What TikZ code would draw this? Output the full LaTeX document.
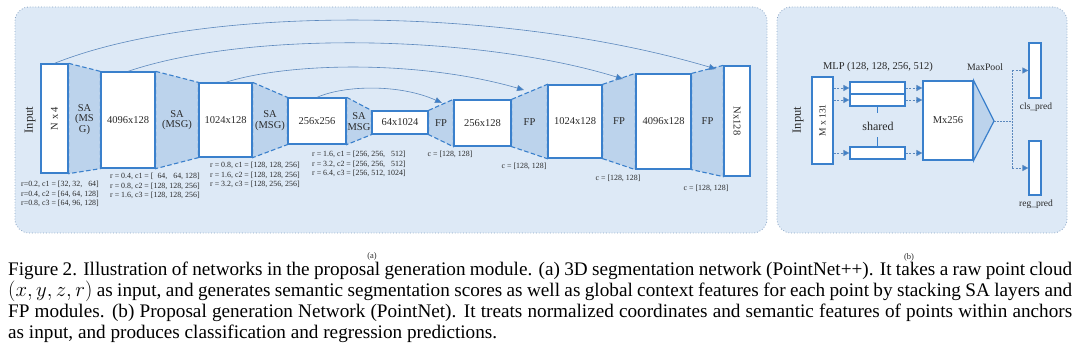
\documentclass[tikz,border=0pt]{standalone}
\usepackage{fontspec}
\setmainfont{Liberation Serif}
\usetikzlibrary{arrows.meta,calc}
\definecolor{panelfill}{HTML}{DDE9F6}
\definecolor{panelline}{HTML}{8AA6C6}
\definecolor{trapfill}{HTML}{BCD3EC}
\definecolor{boxline}{HTML}{3A80CC}
\definecolor{arcline}{HTML}{5B88BD}
\definecolor{txt}{HTML}{2A2A2A}
\newcommand{\captline}[1]{\makebox[1064pt][s]{#1}}
\begin{document}
\begin{tikzpicture}[x=1pt,y=-1pt,
  panel/.style={draw=panelline, fill=panelfill, dotted, line width=0.8pt, rounded corners=14pt, inner sep=0pt},
  fmap/.style={draw=boxline, fill=white, line width=1.3pt, inner sep=0pt, text=txt, font=\fontsize{10.5}{11}\selectfont},
  thin box/.style={draw=boxline, fill=white, line width=1.2pt, inner sep=0pt},
  trap/.style={fill=trapfill, draw=boxline, line width=1.1pt, dash pattern=on 4.5pt off 2.5pt},
  lbl/.style={text=txt, font=\fontsize{10.5}{10.5}\selectfont, align=center, inner sep=0pt},
  param/.style={text=txt, font=\fontsize{7.9}{9.5}\selectfont, align=left, inner sep=0pt, anchor=north west},
  small/.style={text=txt, font=\fontsize{7.9}{9.5}\selectfont, inner sep=0pt},
  skip/.style={draw=arcline, line width=0.6pt, -{Triangle[length=7pt,width=6pt,fill=boxline]}},
  dasharr/.style={draw=arcline, line width=0.7pt, dash pattern=on 2pt off 1.5pt, -{Triangle[length=6pt,width=6pt,fill=boxline]}},
  dashln/.style={draw=arcline, line width=0.7pt, dash pattern=on 1.5pt off 1.5pt},
  capt/.style={text=black, font=\fontsize{19.2}{21}\selectfont, align=left, inner sep=0pt, anchor=north west}]
\useasboundingbox (0,0) rectangle (1080,358);
\fill[white] (0,0) rectangle (1080,358);

% panels
\node[panel, minimum width=752pt, minimum height=226pt] (pa) at (391,120) {};
\node[panel, minimum width=290pt, minimum height=226pt] (pb) at (922,120) {};

% ---------- panel (a): feature maps ----------
\node[fmap, minimum width=27pt, minimum height=109pt] (in) at (54.5,118.5) {};
\node[fmap, minimum width=54pt, minimum height=96pt] (b1) at (128,120) {};
\node[fmap, minimum width=53pt, minimum height=74pt] (b2) at (225.5,120) {};
\node[fmap, minimum width=58pt, minimum height=46pt] (b3) at (317,121) {};
\node[fmap, minimum width=56pt, minimum height=23pt] (b4) at (400,122.5) {};
\node[fmap, minimum width=57pt, minimum height=46pt] (b5) at (482.5,123) {};
\node[fmap, minimum width=54pt, minimum height=73pt] (b6) at (575,121.5) {};
\node[fmap, minimum width=55pt, minimum height=95pt] (b7) at (663.5,121.5) {};
\node[fmap, minimum width=26pt, minimum height=110pt] (out) at (737,121) {};

% trapezoids
\foreach \a/\b in {in/b1, b1/b2, b2/b3, b3/b4, b4/b5, b5/b6, b6/b7, b7/out}{
  \path[trap] (\a.north east) -- (\b.north west) -- (\b.south west) -- (\a.south east) -- cycle;
}
% boxes on top, with their texts
\node[fmap, minimum width=54pt, minimum height=96pt] at (b1) {4096x128};
\node[fmap, minimum width=53pt, minimum height=74pt] at (b2) {1024x128};
\node[fmap, minimum width=58pt, minimum height=46pt] at (b3) {256x256};
\node[fmap, minimum width=56pt, minimum height=23pt] at (b4) {64x1024};
\node[fmap, minimum width=57pt, minimum height=46pt] at (b5) {256x128};
\node[fmap, minimum width=54pt, minimum height=73pt] at (b6) {1024x128};
\node[fmap, minimum width=55pt, minimum height=95pt] at (b7) {4096x128};
\node[fmap, minimum width=26pt, minimum height=110pt] at (out) {\rotatebox{-90}{Nx128}};
\node[fmap, minimum width=27pt, minimum height=109pt] at (in) {\rotatebox{90}{N x 4}};
\draw[boxline, line width=1.1pt, dash pattern=on 4.5pt off 2.5pt] (in.north east) -- (in.south east);
\draw[boxline, line width=1.1pt, dash pattern=on 4.5pt off 2.5pt] (b7.north west) -- (b7.south west);

\node[lbl, rotate=90, font=\fontsize{12.5}{13}\selectfont] (inlab) at (30,120) {Input};

% layer labels
\node[lbl] (sa1) at ($(in.east)!0.5!(b1.west)$) {SA\\(MS\\G)};
\node[lbl] (sa2) at ($(b1.east)!0.5!(b2.west)$) {SA\\(MSG)};
\node[lbl] (sa3) at ($(b2.east)!0.5!(b3.west)$) {SA\\(MSG)};
\node[lbl] (sa4) at ($(b3.east)!0.5!(b4.west)$) {SA\\MSG};
\node[lbl] (fp1) at ($(b4.east)!0.5!(b5.west)$) {FP};
\node[lbl] (fp2) at ($(b5.east)!0.5!(b6.west)$) {FP};
\node[lbl] (fp3) at ($(b6.east)!0.5!(b7.west)$) {FP};
\node[lbl] (fp4) at ($(b7.east)!0.5!(out.west)$) {FP};

% parameters
\node[param] (g1) at (21,181) {r=0.2, c1 = [32, 32,\ \ \ 64]\\r=0.4, c2 = [64, 64, 128]\\r=0.8, c3 = [64, 96, 128]};
\node[param] (g2) at (110,173) {r = 0.4, c1 = [\ \ 64,\ \ \ 64, 128]\\r = 0.8, c2 = [128, 128, 256]\\r = 1.6, c3 = [128, 128, 256]};
\node[param] (g3) at (210,162) {r = 0.8, c1 = [128, 128, 256]\\r = 1.6, c2 = [128, 128, 256]\\r = 3.2, c3 = [128, 256, 256]};
\node[param] (g4) at (312,151) {r = 1.6, c1 = [256, 256,\ \ \ 512]\\r = 3.2, c2 = [256, 256,\ \ \ 512]\\r = 6.4, c3 = [256, 512, 1024]};
\node[small] (c1) at (450,154) {c = [128, 128]};
\node[small] (c2) at (524,166) {c = [128, 128]};
\node[small] (c3) at (618,178) {c = [128, 128]};
\node[small] (c4) at (706,188) {c = [128, 128]};

% skip connections
\coordinate (t1) at (716,69);
\coordinate (t2) at (623,79);
\coordinate (t3) at (524,90);
\coordinate (t4) at (442,103);
\draw[skip] (in.north) .. controls (200,5) and (500,5) .. (t1);
\draw[skip] (b1.north) .. controls (250,30) and (480,35) .. (t2);
\draw[skip] (b2.north) .. controls (290,62) and (420,60) .. (t3);
\draw[skip] (b3.north) .. controls (345,85) and (400,84) .. (t4);

\node[small, font=\fontsize{8.5}{9}\selectfont] (cap a) at (372,256) {(a)};

% ---------- panel (b) ----------
\node[lbl, rotate=90, font=\fontsize{12.5}{13}\selectfont] (inlabb) at (798,120) {Input};
\node[thin box, minimum width=21pt, minimum height=87pt, text=txt, font=\fontsize{9.5}{10}\selectfont] (inb) at (822.5,120.5) {\rotatebox{90}{M x 131}};
\node[thin box, minimum width=55pt, minimum height=12pt] (s1) at (877.5,88) {};
\node[thin box, minimum width=55pt, minimum height=12pt] (s2) at (877.5,100) {};
\node[thin box, minimum width=55pt, minimum height=12pt] (s3) at (877.5,153) {};
\node[thin box, minimum width=50pt, minimum height=79pt, text=txt, font=\fontsize{10.5}{11}\selectfont] (mx) at (948,120.5) {Mx256};
\coordinate (tip) at (994,121);
\path[fill=trapfill, draw=boxline, line width=1.2pt, line join=miter] (mx.north east) -- (tip) -- (mx.south east) -- cycle;
\node[thin box, minimum width=12pt, minimum height=55pt] (cls) at (1035,70.5) {};
\node[thin box, minimum width=12pt, minimum height=54pt] (reg) at (1035,168) {};
\coordinate (split) at (1012,121);

\node[lbl] (mlp) at (878,67) {MLP (128, 128, 256, 512)};
\node[lbl, font=\fontsize{12}{12}\selectfont] (shared) at (878,126) {shared};
\node[lbl, font=\fontsize{9.8}{10}\selectfont] (maxpool) at (985,67) {MaxPool};
\node[lbl, font=\fontsize{9.5}{10}\selectfont] (clsl) at (1036,107) {cls\_pred};
\node[lbl, font=\fontsize{9.5}{10}\selectfont] (regl) at (1036,204) {reg\_pred};

\draw[boxline, line width=0.8pt] (s2.south) -- ++(0,6);
\draw[boxline, line width=0.8pt] (s3.north) -- ++(0,-9);

\foreach \s in {s1,s2,s3}{
  \draw[dasharr] (inb.east |- \s.west) -- (\s.west);
  \draw[dasharr] (\s.east) -- (\s.east -| mx.west);
}
\draw[dashln] (tip) -- (split);
\draw[dashln] (split |- cls.west) -- (split |- reg.west);
\draw[dasharr] (split |- cls.west) -- (cls.west);
\draw[dasharr] (split |- reg.west) -- (reg.west);

\node[small, font=\fontsize{8.5}{9}\selectfont] (cap b) at (909,257) {(b)};

% ---------- caption ----------
\node[capt] (caption) at (8,262) {%
\captline{Figure 2. Illustration of networks in the proposal generation module. (a) 3D segmentation network (PointNet++). It takes a raw point cloud}\\
\captline{$(x,y,z,r)$ as input, and generates semantic segmentation scores as well as global context features for each point by stacking SA layers and}\\
\captline{FP modules. (b) Proposal generation Network (PointNet). It treats normalized coordinates and semantic features of points within anchors}\\
as input, and produces classification and regression predictions.};
\end{tikzpicture}
\end{document}
